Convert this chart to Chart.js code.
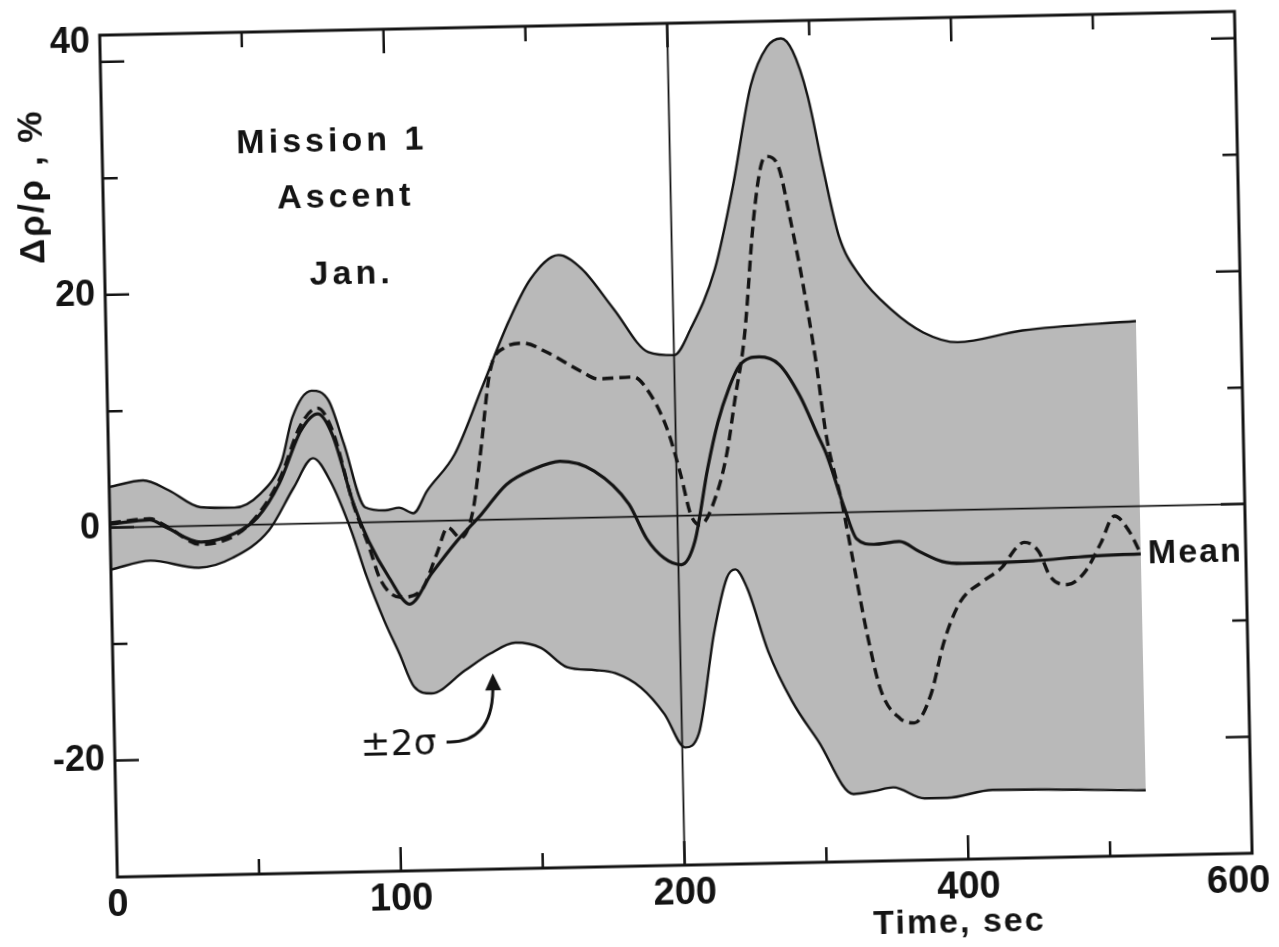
<!DOCTYPE html>
<html>
<head>
<meta charset="utf-8">
<title>Mission 1 Ascent - density deviation</title>
<script src="https://cdn.jsdelivr.net/npm/chart.js@4.4.1/dist/chart.umd.min.js"></script>
<style>
  html, body { margin: 0; padding: 0; background: #fff; overflow: hidden; }
  #wrap { width: 1279px; height: 947px; }
  /* the scanned figure sits slightly skewed on the page */
  #chart { display: block; transform: rotate(-1.2deg); transform-origin: 50% 50%; }
</style>
</head>
<body>
<div id="wrap"><canvas id="chart" width="1279" height="947"></canvas></div>
<script>
// x values are in axis grid units (0..4), the time axis is labelled 0,100,200,400,600 sec
const tickLabels = ['0', '100', '200', '400', '600'];
const yLabels = [40, 20, 0, -20];

// +2 sigma boundary
const upperX = [0, 0.12, 0.21, 0.32, 0.44, 0.53, 0.61, 0.65, 0.72, 0.78, 0.83, 0.90, 0.97, 1.02, 1.07, 1.12, 1.22, 1.32, 1.42, 1.50,
                1.60, 1.68, 1.79, 1.91, 2.00, 2.06, 2.15, 2.22, 2.29, 2.35, 2.40, 2.44, 2.49, 2.54, 2.59, 2.66, 2.77, 2.88, 3.00, 3.23, 3.63];
const upperY = [3.5, 4.0, 3.1, 1.6, 1.5, 2.6, 5.4, 9.1, 11.4, 10.5, 6.8, 1.3, 1.0, 1.2, 0.7, 2.6, 5.7, 11.3, 17.0, 20.6,
                22.6, 21.4, 17.9, 14.1, 13.8, 16.0, 21.1, 28.2, 36.8, 40.1, 40.8, 39.7, 35.8, 29.4, 23.7, 20.3, 17.3, 15.3, 14.4, 15.3, 15.9];

// -2 sigma boundary
const lowerX = [0, 0.14, 0.31, 0.43, 0.56, 0.65, 0.72, 0.78, 0.85, 0.90, 0.96, 1.01, 1.06, 1.12, 1.24, 1.33, 1.42, 1.51, 1.60, 1.70,
                1.77, 1.86, 1.94, 2.01, 2.06, 2.12, 2.17, 2.20, 2.24, 2.31, 2.39, 2.48, 2.60, 2.67, 2.74, 2.85, 2.93, 3.09, 3.63];
const lowerY = [-3.6, -2.9, -3.6, -2.8, -0.5, 3.1, 5.6, 3.6, -0.7, -4.6, -8.5, -11.3, -14.2, -14.8, -12.9, -11.5, -10.6, -11.1, -12.8, -13.1,
                -13.4, -14.7, -17.0, -19.9, -18.7, -10.2, -5.4, -4.7, -6.3, -11.8, -16.1, -19.6, -24.2, -24.0, -23.7, -24.7, -24.7, -24.1, -24.4];

// mean
const meanX = [0, 0.14, 0.20, 0.32, 0.44, 0.52, 0.60, 0.68, 0.74, 0.79, 0.86, 0.91, 0.98, 1.05, 1.13, 1.22, 1.31, 1.40, 1.50, 1.59,
               1.71, 1.83, 1.89, 1.95, 2.01, 2.06, 2.11, 2.15, 2.19, 2.23, 2.30, 2.37, 2.44, 2.50, 2.53, 2.59, 2.63, 2.69, 2.78, 2.85,
               2.93, 3.00, 3.25, 3.45, 3.63];
const meanY = [0.3, 0.6, -0.1, -1.4, -0.7, 0.6, 3.5, 8.0, 9.4, 7.6, 1.6, -1.6, -4.8, -7.1, -4.5, -1.8, 0.5, 3.0, 4.3, 4.9,
               4.0, 1.1, -1.9, -3.6, -4.2, -2.2, 4.0, 8.0, 10.8, 12.8, 13.5, 12.8, 10.1, 6.7, 5.0, 0.3, -2.3, -2.8, -2.6, -3.5,
               -4.4, -4.6, -4.5, -4.2, -4.1];

// mission 1 profile (dashed)
const missionX = [0, 0.14, 0.20, 0.32, 0.44, 0.52, 0.60, 0.68, 0.74, 0.79, 0.86, 0.91, 0.95, 1.02, 1.09, 1.15, 1.19, 1.235, 1.28, 1.31,
                  1.35, 1.40, 1.47, 1.55, 1.67, 1.73, 1.855, 1.90, 1.97, 2.015, 2.047, 2.08, 2.14, 2.18, 2.21, 2.25, 2.29, 2.32, 2.34, 2.38,
                  2.42, 2.46, 2.50, 2.53, 2.58, 2.62, 2.66, 2.705, 2.77, 2.82, 2.88, 2.93, 2.99, 3.07, 3.14, 3.19, 3.22, 3.27, 3.31, 3.37,
                  3.43, 3.49, 3.54, 3.59, 3.63];
const missionY = [0.4, 0.7, 0.0, -1.6, -0.9, 0.8, 3.8, 8.5, 9.9, 8.0, 1.5, -2.0, -5.0, -6.5, -6.0, -2.8, -0.6, -1.5, 0.8, 5.6,
                  12.7, 14.7, 15.1, 14.3, 12.6, 11.9, 12.0, 11.0, 7.5, 3.5, 0.1, -0.8, 1.8, 5.4, 9.7, 15.4, 25.3, 29.9, 30.7, 29.9,
                  25.2, 19.6, 12.9, 6.7, 0.9, -4.8, -10.5, -15.4, -17.8, -18.2, -15.8, -11.3, -7.9, -6.2, -5.0, -3.4, -2.9, -3.7, -5.9, -6.6,
                  -5.6, -3.1, -0.8, -2.1, -4.1];

function toPoints(xs, ys) {
    return xs.map((v, i) => ({ x: v, y: ys[i] }));
}

const INK = '#141414';
const BOLD = "'Liberation Sans', Arial, sans-serif";

// frame, inward ticks, tick labels, reference lines and the hand lettering
const figurePlugin = {
    id: 'figure',
    afterDatasetsDraw(chart) {
        const { ctx, chartArea: a } = chart;
        const x = chart.scales.x, y = chart.scales.y;
        const px = v => x.getPixelForValue(v);
        const py = v => y.getPixelForValue(v);

        ctx.save();
        ctx.strokeStyle = INK;
        ctx.fillStyle = INK;

        // 0 % line and 200 sec line
        ctx.lineWidth = 1.8;
        ctx.beginPath();
        ctx.moveTo(a.left, py(0));
        ctx.lineTo(a.right, py(0));
        ctx.moveTo(px(2), a.top);
        ctx.lineTo(px(2), a.bottom);
        ctx.stroke();

        // box
        ctx.lineWidth = 3;
        ctx.strokeRect(a.left, a.top, a.right - a.left, a.bottom - a.top);

        // ticks pointing inwards
        ctx.lineWidth = 2.5;
        ctx.beginPath();
        for (let v = 0.5; v < 4; v += 0.5) {
            const len = v % 1 === 0 ? 24 : 15;
            ctx.moveTo(px(v), a.bottom);
            ctx.lineTo(px(v), a.bottom - len);
            ctx.moveTo(px(v), a.top);
            ctx.lineTo(px(v), a.top + len);
        }
        for (let v = -20; v <= 40; v += 10) {
            const len = v % 20 === 0 ? 24 : 15;
            ctx.moveTo(a.left, py(v));
            ctx.lineTo(a.left + len, py(v));
            ctx.moveTo(a.right, py(v));
            ctx.lineTo(a.right - len, py(v));
        }
        ctx.stroke();

        // tick labels
        ctx.textBaseline = 'middle';
        ctx.font = 'bold 36px ' + BOLD;
        ctx.textAlign = 'right';
        yLabels.forEach(v => {
            // the top label sits up against the corner of the box
            const lift = v === 40 ? 20 : 0;
            ctx.fillText(String(v), a.left - 10, py(v) - lift);
        });
        ctx.font = 'bold 38px ' + BOLD;
        ctx.textAlign = 'center';
        tickLabels.forEach((t, i) => {
            const shift = i === tickLabels.length - 1 ? -14 : 0;
            ctx.fillText(t, px(i) + shift, a.bottom + 29);
        });

        // case label
        ctx.font = 'bold 34px ' + BOLD;
        ctx.letterSpacing = '4px';
        ctx.fillText('Mission 1', px(0.81), py(32.7));
        ctx.fillText('Ascent', px(0.855), py(27.9));
        ctx.fillText('Jan.', px(0.87), py(21.3));

        // curve label
        ctx.letterSpacing = '2px';
        ctx.textAlign = 'left';
        ctx.fillText('Mean', px(3.655), py(-4.1));

        // axis titles
        ctx.fillText('Time, sec', px(2.66), py(-35.5));
        ctx.save();
        ctx.translate(px(-0.245), py(29.4));
        ctx.rotate(-Math.PI / 2);
        ctx.textAlign = 'center';
        ctx.font = 'bold 35px ' + BOLD;
        ctx.fillText('\u0394\u03C1/\u03C1 , %', 0, 0);
        ctx.restore();

        // +-2 sigma note with arrow
        ctx.letterSpacing = '0px';
        ctx.font = "36px 'DejaVu Sans', sans-serif";
        ctx.textAlign = 'center';
        ctx.fillText('\u00B12\u03C3', px(1.0), py(-19.2));
        ctx.lineWidth = 3;
        ctx.beginPath();
        ctx.moveTo(px(1.17), py(-19.0));
        ctx.quadraticCurveTo(px(1.33), py(-19.2), px(1.337), py(-14.6));
        ctx.stroke();
        const tipX = px(1.338), tipY = py(-13.2);
        ctx.beginPath();
        ctx.moveTo(tipX, tipY);
        ctx.lineTo(tipX - 8, tipY + 17);
        ctx.lineTo(tipX + 8, tipY + 17);
        ctx.closePath();
        ctx.fill();

        ctx.restore();
    }
};

const ctx = document.getElementById('chart').getContext('2d');

new Chart(ctx, {
    type: 'line',
    data: {
        datasets: [
            {
                label: '-2 sigma',
                data: toPoints(lowerX, lowerY),
                borderColor: INK,
                borderWidth: 2.4,
                pointRadius: 0,
                cubicInterpolationMode: 'monotone',
                fill: false,
                order: 3
            },
            {
                label: '+2 sigma',
                data: toPoints(upperX, upperY),
                borderColor: INK,
                borderWidth: 2.4,
                pointRadius: 0,
                cubicInterpolationMode: 'monotone',
                backgroundColor: '#b9b9b9',
                fill: '-1',
                order: 2
            },
            {
                label: 'Mean',
                data: toPoints(meanX, meanY),
                borderColor: INK,
                borderWidth: 3.2,
                pointRadius: 0,
                cubicInterpolationMode: 'monotone',
                fill: false,
                order: 1
            },
            {
                label: 'Mission 1',
                data: toPoints(missionX, missionY),
                borderColor: INK,
                borderWidth: 3.4,
                borderDash: [11, 6],
                pointRadius: 0,
                cubicInterpolationMode: 'monotone',
                fill: false,
                order: 0
            }
        ]
    },
    options: {
        responsive: false,
        devicePixelRatio: 1,
        animation: false,
        events: [],
        layout: { padding: { top: 24, right: 35, left: 0, bottom: 0 } },
        plugins: {
            legend: { display: false },
            tooltip: { enabled: false },
            filler: { drawTime: 'beforeDatasetsDraw' }
        },
        scales: {
            x: {
                type: 'linear',
                min: 0,
                max: 4,
                grid: { display: false, drawTicks: false },
                border: { display: false },
                ticks: { display: false },
                afterFit: s => { s.height = 81; }
            },
            y: {
                type: 'linear',
                min: -30,
                max: 42.3,
                grid: { display: false, drawTicks: false },
                border: { display: false },
                ticks: { display: false },
                afterFit: s => { s.width = 109; }
            }
        }
    },
    plugins: [figurePlugin]
});
</script>
</body>
</html>
